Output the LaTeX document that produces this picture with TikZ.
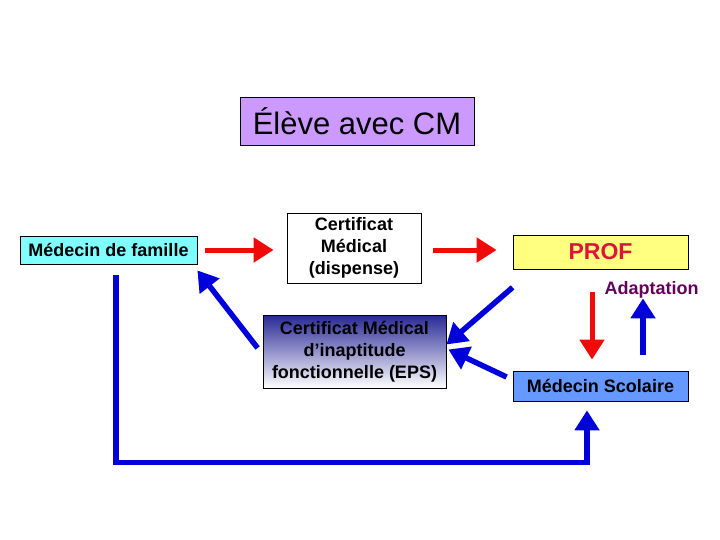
\documentclass[tikz,border=0pt]{standalone}
\usepackage{fontspec}
\setmainfont{Liberation Sans}
\usetikzlibrary{arrows.meta}
\definecolor{lav}{RGB}{204,153,255}
\definecolor{cyanbox}{RGB}{128,255,255}
\definecolor{yelbox}{RGB}{255,255,128}
\definecolor{scolbox}{RGB}{102,153,255}
\definecolor{profred}{RGB}{220,20,60}
\definecolor{adapt}{RGB}{100,0,90}
\definecolor{navy}{RGB}{40,40,150}
\definecolor{arrred}{RGB}{240,10,10}
\definecolor{arrblue}{RGB}{0,0,220}
\tikzset{
  box/.style={draw=black, line width=0.8pt, inner sep=0pt, align=center},
  bodytext/.style={font=\fontsize{18}{22}\selectfont\bfseries},
  redarr/.style={draw=arrred, line width=5pt, -{Triangle[length=20pt,width=24pt]}},
  bluearr/.style={draw=arrblue, line width=5.5pt, -{Triangle[length=20pt,width=24pt]}},
}
\begin{document}
\begin{tikzpicture}[x=1pt,y=-1pt]
\useasboundingbox (0,0) rectangle (720,540);
\node[box, fill=lav, minimum width=234pt, minimum height=48pt, font=\fontsize{31}{36}\selectfont] (eleve) at (357,121) {Élève avec CM};
\node[box, fill=cyanbox, minimum width=177pt, minimum height=28pt, bodytext] (famille) at (108.5,250) {Médecin de famille};
\node[box, fill=white, minimum width=134pt, minimum height=70pt, bodytext] (cert) at (354,248) {Certificat\\Médical\\(dispense)};
\node[box, fill=yelbox, minimum width=175pt, minimum height=34pt, font=\fontsize{23}{26}\selectfont\bfseries, text=profred] (prof) at (600.5,252) {PROF};
\node[font=\fontsize{18}{22}\selectfont\bfseries, text=adapt, inner sep=0pt] (adapt) at (651.5,290) {Adaptation};
\node[box, top color=navy, bottom color=white, minimum width=183pt, minimum height=73pt, bodytext] (eps) at (354.5,351.5) {Certificat Médical\\d’inaptitude\\fonctionnelle (EPS)};
\node[box, fill=scolbox, minimum width=175pt, minimum height=30pt, bodytext] (scol) at (600.5,386) {Médecin Scolaire};
% red arrows
\draw[redarr, shorten <=8pt, shorten >=13pt] (famille.east) -- ([yshift=-2pt]cert.west);
\draw[redarr, shorten <=12pt, shorten >=16pt] ([yshift=-2pt]cert.east) -- ([yshift=2pt]prof.west);
\draw[redarr] ([xshift=-8.5pt,yshift=-23pt]prof.south) -- ([xshift=-8.5pt,yshift=11pt]scol.north);
% blue arrows
\draw[bluearr] ([xshift=-5pt,yshift=3.5pt]eps.west) -- ([yshift=-6pt]famille.south east);
\draw[bluearr] ([yshift=-18pt]prof.south west) -- ([xshift=0pt,yshift=7pt]eps.east);
\draw[bluearr] ([xshift=-6pt,yshift=9pt]scol.west) -- ([xshift=2pt,yshift=2pt]eps.east);
\draw[bluearr] ([xshift=42.5pt,yshift=16pt]scol.north) -- ([xshift=42.5pt,yshift=-29pt]prof.south);
\coordinate (lstart) at ([xshift=7.5pt,yshift=-11pt]famille.south);
\draw[bluearr, line join=miter] (lstart) -- ++(0,187) -| ([xshift=-13.5pt,yshift=-9pt]scol.south);
\end{tikzpicture}
\end{document}
